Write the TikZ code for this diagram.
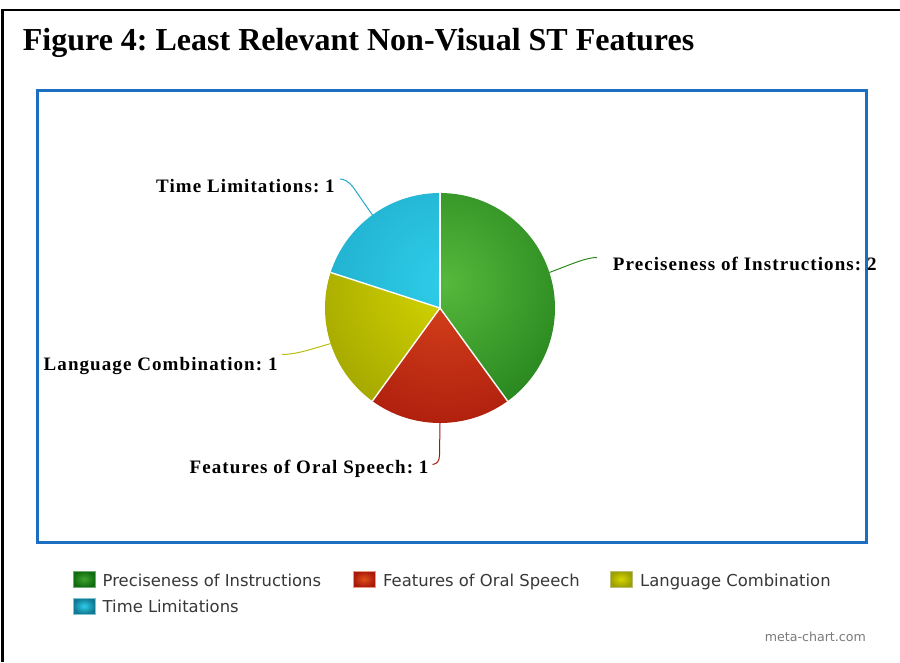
\documentclass[tikz,border=0pt]{standalone}
\usepackage{fontspec}
\setmainfont{Liberation Serif}
\newfontfamily\lblfont[LetterSpace=5.7]{Liberation Serif}
\newfontfamily\legendfont{DejaVu Sans}
\usetikzlibrary{calc}

\definecolor{frameblue}{HTML}{1B6EC2}
\definecolor{legendtext}{HTML}{383838}
\definecolor{credittext}{HTML}{7A7A7A}
% slice gradients
\definecolor{greenin}{HTML}{56B83C}
\definecolor{greenout}{HTML}{036007}
\definecolor{redin}{HTML}{D8441C}
\definecolor{redout}{HTML}{930705}
\definecolor{yellowin}{HTML}{D6D600}
\definecolor{yellowout}{HTML}{828800}
\definecolor{cyanin}{HTML}{2ECDEA}
\definecolor{cyanout}{HTML}{1596B6}
% leader lines
\definecolor{greenline}{HTML}{2E8B1E}
\definecolor{redline}{HTML}{A8140C}
\definecolor{yellowline}{HTML}{BDBD10}
\definecolor{cyanline}{HTML}{22A9C9}

\begin{document}
\frenchspacing
\begin{tikzpicture}[x=1pt,y=-1pt,
  plabel/.style={anchor=base west, inner sep=0pt,
    font=\lblfont\bfseries\fontsize{19}{19}\selectfont},
  legtext/.style={anchor=base west, inner sep=0pt, text=legendtext,
    font=\legendfont\fontsize{16.4}{16.4}\selectfont},
  leader/.style={line width=1pt},
  sep/.style={draw=white, line width=1.4pt},
  swframe/.style={line width=0.6pt}
]
\useasboundingbox (0,0) rectangle (900,662);
\fill[white] (0,0) rectangle (900,662);

% page frame
\draw[line width=2.6pt] (2.5,662) -- (2.5,10) -- (900,10);

% title
\node[anchor=base west, inner sep=0pt, font=\bfseries\fontsize{32}{32}\selectfont]
  (title) at (22.7,50.5) {Figure 4: Least Relevant Non-Visual ST Features};

% chart frame
\draw[frameblue, line width=3pt] (37,90) rectangle (866,542);

% pie
\coordinate (pc) at (440,308);
\def\R{115}
\foreach \a/\b/\ci/\co in {-90/54/greenin/greenout, 54/126/redin/redout,
                           126/198/yellowin/yellowout, 198/270/cyanin/cyanout}{
  \begin{scope}
    \clip (pc) -- ($(pc)+(\a:\R)$) arc[start angle=\a, end angle=\b, radius=\R] -- cycle;
    \shade[inner color=\ci, outer color=\co] (446,282) circle (245);
  \end{scope}
}
\foreach \a in {-90,54,126,198}{
  \draw[sep] (pc) -- ($(pc)+(\a:\R)$);
}

% slice edge points for the leaders
\coordinate (gEdge) at ($(pc)+(-18:\R)$);
\coordinate (rEdge) at ($(pc)+(90:\R)$);
\coordinate (yEdge) at ($(pc)+(162:\R)$);
\coordinate (cEdge) at ($(pc)+(-126:\R)$);

% labels
\node[plabel] (gLab) at (612.7,270.5) {Preciseness of Instructions: 2};
\node[plabel] (rLab) at (189.5,473.8) {Features of Oral Speech: 1};
\node[plabel] (yLab) at (43.5,370) {Language Combination: 1};
\node[plabel] (cLab) at (156,192) {Time Limitations: 1};

% leader ends
\coordinate (gEnd) at (597,257.5);
\coordinate (rEnd) at (432.5,464.5);
\coordinate (yEnd) at (282,354.5);
\coordinate (cEnd) at (340,179);

\draw[leader, greenline] (gEdge) .. controls (572,264) and (586,257.5) .. (gEnd);
\draw[leader, redline] (rEdge) -- (439.5,455) .. controls (439.5,461) and (437,464) .. (rEnd);
\draw[leader, yellowline] (yEdge) .. controls (312,349) and (296,354.5) .. (yEnd);
\draw[leader, cyanline] (cEdge) -- (353,187) .. controls (348,181) and (344,179) .. (cEnd);

% legend
\shade[inner color=greenin!75!greenout, outer color=greenout!85!greenin] (73,571) rectangle (95,587);
\draw[swframe, greenout!55!white] (73,571) rectangle (95,587);
\node[legtext] (lg1) at (102.5,586.7) {Preciseness of Instructions};

\shade[inner color=redin!80!orange, outer color=redout!70!redin] (353,571) rectangle (375,587);
\draw[swframe, redin!55!white] (353,571) rectangle (375,587);
\node[legtext] (lg2) at (383,586.7) {Features of Oral Speech};

\shade[inner color=yellowin, outer color=yellowout!70!yellowin] (610,571) rectangle (632,587);
\draw[swframe, yellowout!55!white] (610,571) rectangle (632,587);
\node[legtext] (lg3) at (640,586.7) {Language Combination};

\shade[inner color=cyanin, outer color=cyanout!80!black] (73,598) rectangle (95,614);
\draw[swframe, cyanout!55!white] (73,598) rectangle (95,614);
\node[legtext] (lg4) at (102.5,612.3) {Time Limitations};

% credit
\node[anchor=base east, inner sep=0pt, text=credittext,
  font=\legendfont\fontsize{12.6}{12.6}\selectfont] (credit) at (866,641.5) {meta-chart.com};
\end{tikzpicture}
\end{document}
